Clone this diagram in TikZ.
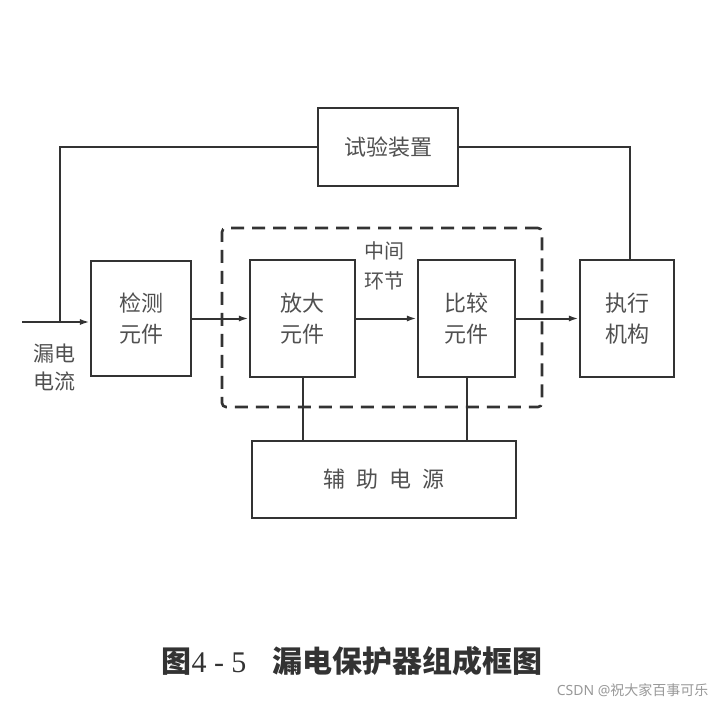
\documentclass[tikz,border=0pt]{standalone}
\usepackage{fontspec}
\setmainfont{Liberation Serif}
\newfontfamily\cjk{Noto Sans CJK SC}
\usetikzlibrary{arrows.meta}
\definecolor{ink}{HTML}{333333}
\definecolor{txt}{HTML}{505050}
\begin{document}
\begin{tikzpicture}[x=1pt,y=-1pt,
  blk/.style={draw=ink,line width=2.2pt,rectangle,inner sep=0pt,text=txt,
    font=\cjk\fontsize{22}{31}\selectfont,align=center},
  wire/.style={draw=ink,line width=2pt},
  arr/.style={wire,-{Latex[length=10pt,width=6pt]}},
  lbl/.style={text=txt,font=\cjk\fontsize{20}{30}\selectfont,align=center}]
\useasboundingbox[fill=white] (0,0) rectangle (725,706);
% group box
\node[draw=ink,line width=2.6pt,dash pattern=on 13pt off 8pt,rounded corners=4pt,
  minimum width=320pt,minimum height=179pt] (grp) at (382,317.5) {};
% blocks
\node[blk,minimum width=140pt,minimum height=78pt] (test) at (388,147) {试验装置};
\node[blk,minimum width=100pt,minimum height=115pt] (det) at (141,318.5) {检测\\元件};
\node[blk,minimum width=105pt,minimum height=117pt] (amp) at (302.5,318.5) {放大\\元件};
\node[blk,minimum width=97pt,minimum height=117pt] (cmp) at (466.5,318.5) {比较\\元件};
\node[blk,minimum width=94pt,minimum height=117pt] (exe) at (627,318.5) {执行\\机构};
\node[blk,minimum width=264pt,minimum height=77pt] (aux) at (384,479.5) {辅\hspace{11pt}助\hspace{11pt}电\hspace{11pt}源};
% labels
\node[lbl] (mid) at (384,266) {中间\\环节};
\node[lbl,font=\cjk\fontsize{21}{28}\selectfont] (leak) at (54,368) {漏电\\电流};
% connectors
\coordinate (in) at (22,322);
\coordinate (j) at (60,322);
\draw[arr] (in) -- (in -| det.west);
\draw[wire] (j) |- (test.west);
\draw[wire] (test.east) -| ([xshift=3pt]exe.north);
\draw[arr] (det.east) -- (amp.west);
\draw[arr] (amp.east) -- (cmp.west);
\draw[arr] (cmp.east) -- (exe.west);
\draw[wire] (amp.south) -- (amp.south |- aux.north);
\draw[wire] (cmp.south) -- (cmp.south |- aux.north);
% caption
\node[text=ink,anchor=west] (cap) at (158,661)
  {\cjk\bfseries\fontsize{30}{30}\selectfont 图\fontspec{Liberation Serif}\fontsize{30}{30}\selectfont\mdseries 4 - 5\hspace{26pt}\cjk\bfseries\fontsize{30}{30}\selectfont 漏电保护器组成框图};
\node[text=gray!80,anchor=east] (wm) at (712,690)
  {\fontspec{Noto Sans}\fontsize{14}{14}\selectfont CSDN @\cjk 祝大家百事可乐};
\end{tikzpicture}
\end{document}
